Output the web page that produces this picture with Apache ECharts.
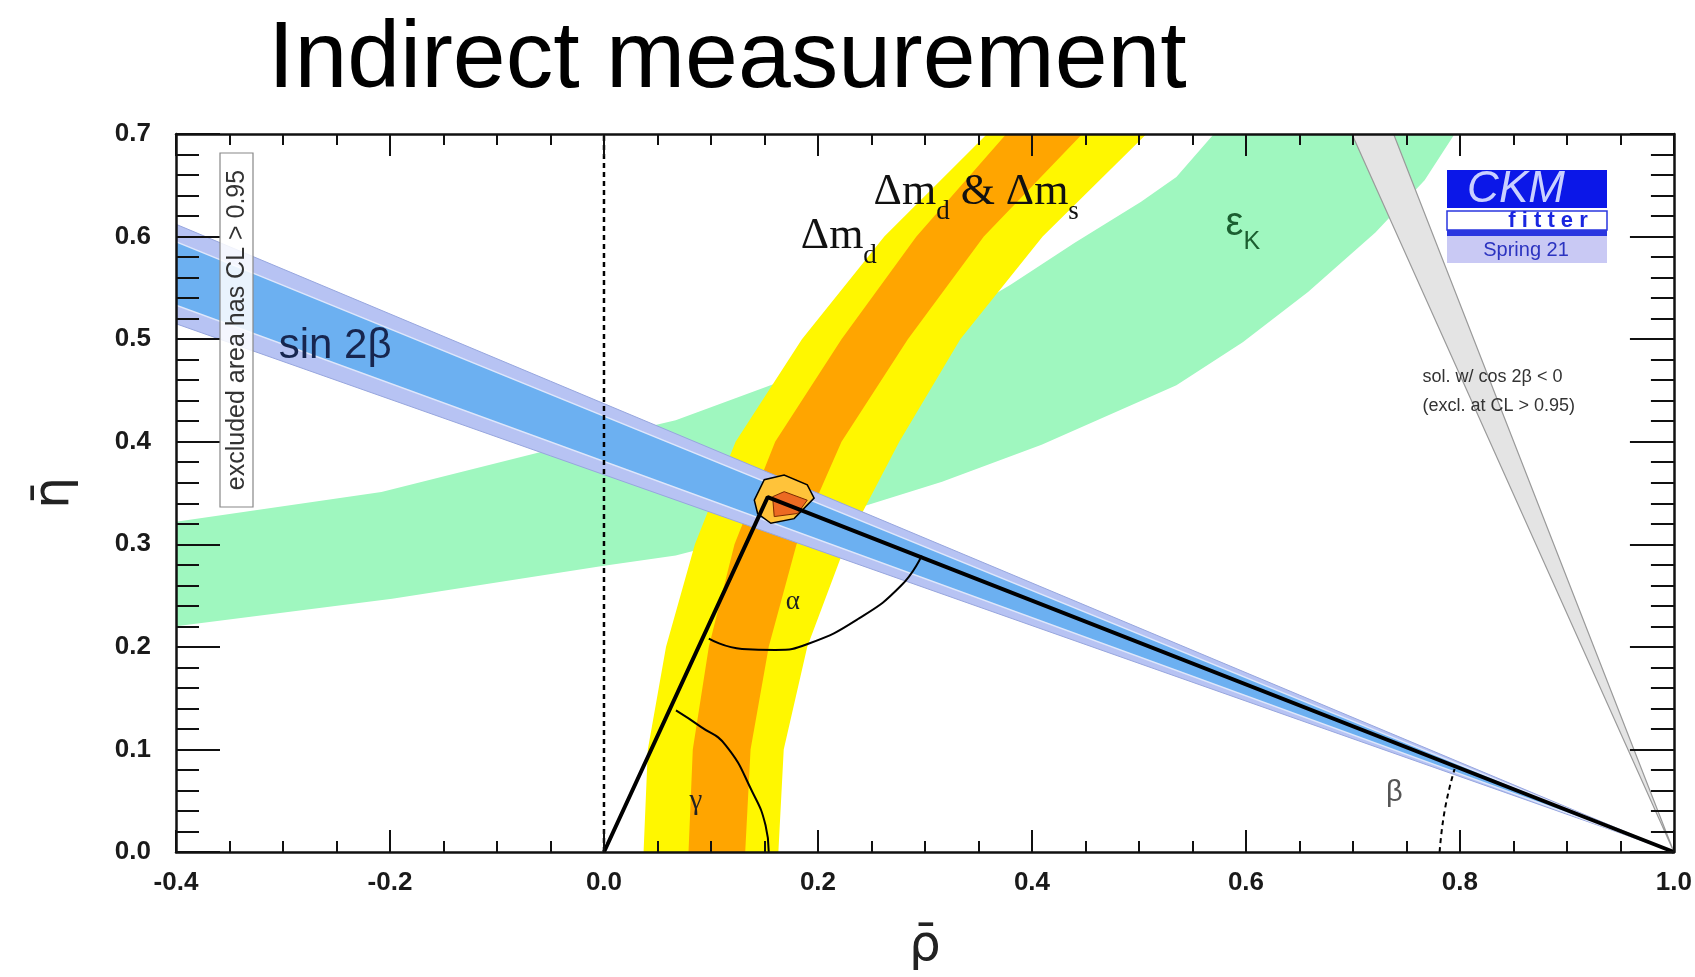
<!DOCTYPE html>
<html>
<head>
<meta charset="utf-8">
<title>Indirect measurement</title>
<script src="https://cdn.jsdelivr.net/npm/echarts@6/dist/echarts.min.js"></script>
<style>
    html, body { margin: 0; padding: 0; background: #fff; }
    #main { width: 1695px; height: 977px; }
</style>
</head>
<body>
<div id="main"></div>
<script>
    // axis ranges / ticks
    var rhoTicks = [-0.4, -0.2, 0.0, 0.2, 0.4, 0.6, 0.8, 1.0];
    var etaTicks = [0.0, 0.1, 0.2, 0.3, 0.4, 0.5, 0.6, 0.7];

    // sin 2beta wedges, [rho, eta] corners
    var sin2bOuter = [[1.0, 0.0], [-0.4, 0.612], [-0.4, 0.515]];
    var sin2bInner = [[1.0, 0.0], [-0.4, 0.595], [-0.4, 0.533]];
    // second solution (cos 2beta < 0), grey
    var sin2bOther = [[1.0, 0.0], [0.699, 0.70], [0.738, 0.70]];

    // eps_K band edges
    var epsKUpper = [[-0.4, 0.322], [-0.208, 0.351], [-0.059, 0.390], [0.067, 0.421], [0.33, 0.522],
        [0.38, 0.553], [0.44, 0.594], [0.502, 0.634], [0.535, 0.658], [0.57, 0.70]];
    var epsKLower = [[-0.4, 0.220], [-0.198, 0.247], [0.0, 0.279], [0.067, 0.289], [0.23, 0.333],
        [0.316, 0.361], [0.409, 0.397], [0.535, 0.455], [0.597, 0.497], [0.658, 0.546],
        [0.721, 0.604], [0.767, 0.655], [0.795, 0.70]];

    // dm_d (yellow) and dm_d & dm_s (orange) band edges
    var dmdLeft = [[0.037, 0.0], [0.041, 0.1], [0.058, 0.2], [0.085, 0.3], [0.123, 0.4], [0.185, 0.5], [0.262, 0.6], [0.358, 0.7]];
    var dmdRight = [[0.163, 0.0], [0.168, 0.1], [0.19, 0.2], [0.226, 0.3], [0.276, 0.4], [0.333, 0.5], [0.41, 0.6], [0.507, 0.7]];
    var dmsLeft = [[0.079, 0.0], [0.083, 0.1], [0.098, 0.2], [0.122, 0.3], [0.16, 0.4], [0.222, 0.5], [0.292, 0.6], [0.376, 0.7]];
    var dmsRight = [[0.132, 0.0], [0.137, 0.1], [0.154, 0.2], [0.18, 0.3], [0.222, 0.4], [0.284, 0.5], [0.355, 0.6], [0.447, 0.7]];

    // global fit region at the apex
    var fitOuter = [[0.1405, 0.343], [0.1498, 0.363], [0.1684, 0.3676], [0.190, 0.358], [0.1964, 0.345],
        [0.1777, 0.325], [0.156, 0.3205], [0.1436, 0.330]];
    var fitInner = [[0.1576, 0.3464], [0.1684, 0.3513], [0.190, 0.343], [0.1808, 0.330], [0.1591, 0.327]];

    // unitarity triangle and angle arcs
    var triangle = [[0.0, 0.0], [0.153, 0.346], [1.0, 0.0]];
    var alphaArc = [[0.098, 0.208], [0.129, 0.198], [0.160, 0.197], [0.191, 0.203], [0.238, 0.2275], [0.278, 0.26], [0.297, 0.289]];
    var gammaArc = [[0.0673, 0.138], [0.0906, 0.122], [0.1138, 0.104], [0.1387, 0.0585], [0.151, 0.026], [0.154, 0.0]];
    var betaArc = [[0.781, 0.0], [0.786, 0.042], [0.795, 0.081]];
    var rhoZero = [[0.0, 0.0], [0.0, 0.7]];

    // text labels: anchor [rho, eta] is left / vertical middle
    var labels = [
        {at: [-0.304, 0.493], size: 42, family: 'Liberation Sans', color: '#17264f', parts: [['sin 2β', 0]]},
        {at: [0.184, 0.600], size: 44, family: 'Liberation Serif', color: '#111', parts: [['Δm', 0], ['d', 1]]},
        {at: [0.252, 0.643], size: 44, family: 'Liberation Serif', color: '#111', parts: [['Δm', 0], ['d', 1], [' & Δm', 0], ['s', 1]]},
        {at: [0.581, 0.612], size: 40, family: 'Liberation Sans', color: '#1b5e30', parts: [['ε', 0], ['K', 1]]},
        {at: [0.170, 0.244], size: 27, family: 'Liberation Serif', color: '#222', parts: [['α', 0]]},
        {at: [0.080, 0.049], size: 29, family: 'Liberation Serif', color: '#222', parts: [['γ', 0]]},
        {at: [0.731, 0.058], size: 29, family: 'Liberation Sans', color: '#555', parts: [['β', 0]]},
        {at: [0.765, 0.463], size: 18, family: 'Liberation Sans', color: '#333', parts: [['sol. w/ cos 2β < 0', 0]]},
        {at: [0.765, 0.435], size: 18, family: 'Liberation Sans', color: '#333', parts: [['(excl. at CL > 0.95)', 0]]}
    ];

    var measureCtx = document.createElement('canvas').getContext('2d');
    function textWidth(t, size, family) {
        measureCtx.font = size + 'px "' + family + '"';
        return measureCtx.measureText(t).width;
    }

    function polySeries(name, pts, fill, stroke, lw) {
        return {
            type: 'custom', name: name, coordinateSystem: 'cartesian2d', clip: true, silent: true, z: 2,
            data: pts,
            renderItem: function (params, api) {
                if (params.dataIndex !== 0) return null;
                var shapePts = pts.map(function (p) { return api.coord(p); });
                return {
                    type: 'polygon',
                    shape: {points: shapePts},
                    style: {fill: fill, stroke: stroke, lineWidth: lw}
                };
            }
        };
    }

    function bandSeries(name, edgeA, edgeB, fill, stroke, lw) {
        return polySeries(name, edgeA.concat(edgeB.slice().reverse()), fill, stroke, lw);
    }

    function lineSeries(name, pts, width, dashed, smooth) {
        return {
            type: 'line', name: name, data: pts, symbol: 'none', smooth: smooth, z: 3, silent: true,
            lineStyle: {color: '#000', width: width, type: dashed ? [5, 4] : 'solid'}
        };
    }

    var labelSeries = {
        type: 'custom', name: 'labels', coordinateSystem: 'cartesian2d', z: 4, silent: true,
        data: labels.map(function (l) { return l.at; }),
        renderItem: function (params, api) {
            var l = labels[params.dataIndex];
            var p = api.coord(l.at);
            var x = p[0];
            var children = [];
            l.parts.forEach(function (part) {
                var sub = part[1] === 1;
                var size = sub ? Math.round(l.size * 0.62) : l.size;
                children.push({
                    type: 'text',
                    x: x, y: p[1] + (sub ? l.size * 0.45 : 0),
                    style: {text: part[0], fill: l.color, font: size + 'px "' + l.family + '"',
                        align: 'left', verticalAlign: 'middle'}
                });
                x += textWidth(part[0], size, l.family);
            });
            return {type: 'group', children: children};
        }
    };

    function fmt(v) {
        if (Math.abs(v) < 1e-9) return '0.0';
        return v.toFixed(1);
    }

    var tickFont = {fontSize: 26, fontWeight: 'bold', fontFamily: 'Liberation Sans', color: '#1a1a1a'};

    function xAxis(pos) {
        var bottom = pos === 'bottom';
        return {
            type: 'value', position: pos, z: 10,
            min: rhoTicks[0], max: rhoTicks[rhoTicks.length - 1], interval: 0.2,
            axisLine: {show: true, onZero: false, lineStyle: {color: '#111', width: 2.5}},
            axisTick: {show: true, inside: true, length: 22, lineStyle: {color: '#111', width: 2}},
            minorTick: {show: true, splitNumber: 4, length: 11, lineStyle: {color: '#111', width: 2}},
            splitLine: {show: false},
            axisLabel: Object.assign({show: bottom, margin: 18, formatter: fmt, showMinLabel: true, showMaxLabel: true}, tickFont),
            name: bottom ? 'ρ̄' : '',
            nameLocation: 'middle', nameGap: 70,
            nameTextStyle: {fontSize: 50, fontFamily: 'DejaVu Sans', color: '#222'}
        };
    }

    function yAxis(pos) {
        var left = pos === 'left';
        return {
            type: 'value', position: pos, z: 10,
            min: etaTicks[0], max: etaTicks[etaTicks.length - 1], interval: 0.1,
            axisLine: {show: true, onZero: false, lineStyle: {color: '#111', width: 2.5}},
            axisTick: {show: true, inside: true, length: 44, lineStyle: {color: '#111', width: 2}},
            minorTick: {show: true, splitNumber: 5, length: 23, lineStyle: {color: '#111', width: 2}},
            splitLine: {show: false},
            axisLabel: Object.assign({show: left, margin: 25, formatter: fmt, showMinLabel: true, showMaxLabel: true}, tickFont),
            name: left ? 'η̄' : '',
            nameLocation: 'middle', nameGap: 96, nameRotate: 90,
            nameTextStyle: {fontSize: 50, fontFamily: 'DejaVu Sans', color: '#222'}
        };
    }

    var myChart = echarts.init(document.getElementById('main'));

    var option = {
        backgroundColor: '#fff',
        animation: false,
        title: {
            text: 'Indirect measurement', left: 263, top: 8,
            textStyle: {fontSize: 95, fontWeight: 'normal', fontFamily: 'Liberation Sans', color: '#000'}
        },
        grid: {left: 176, right: 15, top: 134, bottom: 125},
        xAxis: [xAxis('bottom'), xAxis('top')],
        yAxis: [yAxis('left'), yAxis('right')],
        graphic: [
            // excluded-area note
            {type: 'rect', z: 100, shape: {x: 220, y: 153, width: 33, height: 354},
                style: {fill: 'rgba(255,255,255,0.85)', stroke: '#888', lineWidth: 1.2}},
            {type: 'text', z: 101, x: 237, y: 330, rotation: Math.PI / 2,
                style: {text: 'excluded area has CL > 0.95', align: 'center', verticalAlign: 'middle',
                    font: '25px "Liberation Sans"', fill: '#333'}},
            // CKMfitter logo
            {type: 'rect', z: 100, shape: {x: 1447, y: 170, width: 160, height: 38}, style: {fill: '#0b17e8'}},
            {type: 'text', z: 101, x: 1516, y: 190,
                style: {text: 'CKM', align: 'center', verticalAlign: 'middle', font: 'italic 44px "Liberation Sans"', fill: '#c9d0ff'}},
            {type: 'rect', z: 100, shape: {x: 1447, y: 211, width: 160, height: 19},
                style: {fill: '#fff', stroke: '#2a36e0', lineWidth: 1.5}},
            {type: 'text', z: 101, x: 1548, y: 221,
                style: {text: 'f i t t e r', align: 'center', verticalAlign: 'middle', font: 'bold 22px "Liberation Sans"', fill: '#1a26e0'}},
            {type: 'rect', z: 100, shape: {x: 1447, y: 230, width: 160, height: 6}, style: {fill: '#2a36e0'}},
            {type: 'rect', z: 100, shape: {x: 1447, y: 236, width: 160, height: 27}, style: {fill: '#c9c9f4'}},
            {type: 'text', z: 101, x: 1526, y: 250,
                style: {text: 'Spring 21', align: 'center', verticalAlign: 'middle', font: '20px "Liberation Sans"', fill: '#2b33c0'}}
        ],
        series: [
            bandSeries('epsK', epsKUpper, epsKLower, '#9ff7bf', null, 0),
            bandSeries('dmd', dmdLeft, dmdRight, '#fff700', null, 0),
            bandSeries('dmd & dms', dmsLeft, dmsRight, '#ffa500', null, 0),
            polySeries('sin2b 95', sin2bOuter, '#b7c3f3', '#97a6de', 1),
            polySeries('sin2b 68', sin2bInner, '#6cb0f1', '#dfe7fb', 1.5),
            polySeries('sin2b other', sin2bOther, '#e4e4e4', '#9a9a9a', 1.2),
            polySeries('fit 95', fitOuter, '#ffc33a', '#000', 1.5),
            polySeries('fit 68', fitInner, '#ec6a22', '#7a2a00', 1),
            lineSeries('rho=0', rhoZero, 2.5, true, false),
            lineSeries('alpha', alphaArc, 2, false, true),
            lineSeries('gamma', gammaArc, 2, false, true),
            lineSeries('beta', betaArc, 2, true, true),
            lineSeries('triangle', triangle, 4, false, false),
            labelSeries
        ]
    };

    myChart.setOption(option);
</script>
</body>
</html>
